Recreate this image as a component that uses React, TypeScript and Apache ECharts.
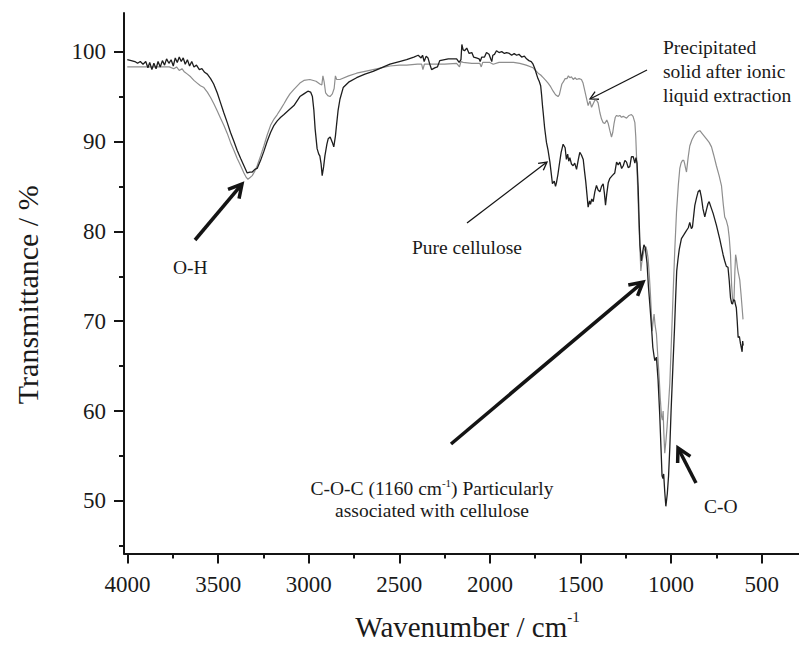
import React, { useEffect, useRef } from "react";
import * as echarts from "echarts";

// Pure cellulose (black trace)
const pureWn = [4002,3980,3960,3945,3930,3915,3900,3888,3878,3866,3855,3843,3832,3820,3808,3796,3785,3772,3760,3748,3737,3726,3715,3704,3693,3682,3670,3658,3646,3634,3620,3604,3590,3575,3560,3542,3525,3505,3487,3469,3450,3432,3413,3395,3376,3358,3340,3325,3312,3298,3285,3266,3248,3230,3211,3192,3174,3155,3137,3110,3082,3049,3027,3005,2990,2980,2972,2965,2954,2945,2939,2932,2926,2918,2911,2900,2893,2882,2870,2862,2853,2847,2838,2828,2810,2780,2736,2690,2645,2600,2552,2500,2460,2420,2396,2380,2372,2363,2352,2342,2332,2322,2305,2290,2277,2230,2184,2170,2160,2155,2148,2140,2128,2115,2100,2090,2075,2060,2054,2045,2030,2019,2005,1996,1990,1984,1975,1964,1950,1935,1920,1908,1893,1880,1866,1853,1840,1825,1810,1798,1785,1772,1762,1752,1743,1735,1728,1720,1715,1710,1706,1698,1688,1679,1669,1662,1655,1645,1638,1633,1625,1618,1607,1596,1585,1578,1571,1565,1559,1550,1541,1532,1522,1512,1504,1495,1485,1478,1471,1464,1458,1450,1445,1438,1430,1421,1412,1403,1393,1384,1375,1368,1362,1355,1347,1338,1325,1311,1301,1292,1283,1273,1264,1255,1246,1237,1228,1219,1209,1200,1194,1188,1182,1177,1172,1164,1157,1150,1143,1133,1125,1116,1108,1101,1094,1090,1081,1072,1063,1056,1050,1045,1041,1035,1029,1021,1014,1007,1000,990,981,975,969,962,955,943,930,918,905,897,888,882,875,869,860,851,841,833,824,814,805,796,790,780,768,750,732,713,704,695,686,679,672,666,661,655,649,644,640,635,630,623,617,612,608,605,602];
const pureT = [99.1,99.0,98.9,98.7,98.9,98.6,98.9,98.2,98.8,98.0,98.7,98.1,98.9,98.3,99.0,98.5,99.2,98.7,99.1,98.4,99.3,98.8,99.4,98.9,99.3,98.6,99.1,98.4,98.9,98.3,98.5,98.0,98.1,97.7,97.5,97.0,96.4,95.4,94.3,93.2,92.1,91.0,90.0,89.0,88.1,87.3,86.5,86.6,86.6,86.9,87.0,87.9,88.9,90.0,91.0,91.8,92.3,92.7,93.0,93.5,94.0,95.0,95.3,95.6,95.5,95.0,93.5,91.4,89.2,88.6,88.4,87.5,86.2,87.2,88.4,89.7,90.3,90.5,89.9,89.4,90.6,91.8,93.5,94.7,96.0,96.6,97.1,97.5,97.8,98.2,98.6,98.9,99.1,99.4,99.6,99.3,99.6,98.9,99.5,99.3,98.6,98.0,98.2,98.3,99.0,99.2,99.2,98.8,99.1,100.8,100.2,100.1,100.4,99.8,99.9,99.4,99.3,99.2,98.9,99.4,99.4,99.9,99.7,99.2,98.9,99.6,99.7,100.1,99.9,100.0,99.8,99.9,99.8,99.6,99.8,99.6,99.7,99.4,99.5,99.2,99.0,98.9,98.6,98.1,97.5,97.0,96.7,96.2,95.2,94.0,93.2,91.5,89.9,89.0,87.7,86.5,85.3,85.6,85.0,85.4,86.3,87.3,88.8,89.7,89.3,88.0,88.6,87.8,88.2,87.5,87.3,87.6,86.9,88.0,88.8,88.5,88.0,86.7,85.5,84.0,82.7,83.4,83.0,83.6,83.3,84.4,85.1,84.6,84.4,85.0,85.3,84.2,82.9,84.2,85.4,85.9,86.2,86.5,87.7,87.4,87.7,87.0,87.3,87.9,87.7,87.1,87.2,88.3,88.3,87.6,88.2,87.6,85.0,81.5,78.5,76.7,77.7,78.5,78.2,76.5,73.8,71.5,69.3,67.1,66.1,65.6,66.0,63.5,59.7,56.0,52.8,52.5,53.0,51.0,49.4,50.8,52.8,56.0,60.1,65.0,69.3,72.6,75.6,76.9,78.0,79.2,79.6,80.0,80.4,81.0,80.3,80.5,81.8,82.9,83.7,84.4,84.6,83.8,82.5,81.6,82.4,83.1,83.3,82.7,82.0,80.7,79.2,77.4,76.7,76.1,76.0,74.5,72.6,72.0,71.9,72.4,72.3,71.8,71.5,70.0,68.2,68.3,67.5,67.0,66.6,67.8,67.3];

// Precipitated solid after ionic liquid extraction (grey trace)
const precipWn = [4002,3950,3900,3850,3800,3770,3745,3730,3715,3700,3689,3670,3652,3634,3616,3598,3579,3560,3542,3524,3505,3487,3469,3450,3432,3413,3395,3376,3358,3345,3336,3324,3312,3298,3285,3266,3248,3230,3211,3192,3174,3155,3137,3120,3104,3082,3049,3027,2994,2960,2939,2928,2922,2915,2907,2895,2883,2870,2860,2853,2846,2828,2780,2736,2690,2645,2600,2552,2500,2460,2400,2377,2370,2362,2300,2250,2184,2168,2160,2148,2100,2056,2048,2040,2000,1982,1950,1908,1870,1835,1800,1762,1748,1734,1720,1706,1692,1679,1665,1651,1638,1624,1617,1610,1603,1596,1585,1575,1567,1559,1550,1540,1530,1522,1508,1495,1486,1476,1467,1458,1448,1439,1430,1421,1412,1403,1393,1384,1375,1366,1355,1347,1338,1329,1322,1315,1308,1301,1292,1283,1274,1264,1255,1246,1232,1219,1210,1200,1195,1191,1184,1177,1171,1167,1162,1158,1150,1139,1133,1127,1120,1114,1108,1105,1100,1094,1088,1081,1074,1066,1060,1053,1048,1044,1040,1035,1028,1022,1015,1007,998,989,980,970,960,952,945,937,930,925,920,915,906,897,885,869,855,841,825,805,790,777,765,750,735,722,712,704,695,686,679,672,666,661,657,653,648,644,640,634,630,621,614,608,603];
const precipT = [98.3,98.3,98.3,98.3,98.3,98.3,98.1,98.3,97.9,98.1,97.8,97.5,97.2,96.8,96.5,96.2,96.0,95.5,94.9,94.2,93.4,92.6,91.8,90.9,89.9,89.0,88.1,87.3,86.5,86.0,85.8,86.0,86.2,86.7,87.3,88.4,89.5,90.7,91.8,92.5,93.0,93.6,94.2,94.8,95.3,95.8,96.5,96.8,96.9,96.7,96.4,96.3,97.3,96.6,95.4,95.1,95.0,95.3,95.9,97.3,96.9,96.9,97.3,97.6,97.8,98.0,98.2,98.4,98.5,98.5,98.6,98.6,98.0,98.6,98.6,98.6,98.7,98.3,98.9,98.8,98.7,98.7,98.3,98.8,98.8,98.6,98.8,98.8,98.8,98.7,98.5,98.2,97.9,97.6,97.4,97.1,96.8,96.5,96.1,95.6,95.2,95.0,95.2,95.8,96.4,96.6,97.0,97.0,97.3,97.1,97.2,96.9,97.1,96.9,97.0,96.9,96.5,95.6,94.8,94.0,94.5,93.8,94.2,94.6,94.6,94.3,93.2,92.5,92.1,92.0,92.4,92.0,91.2,90.5,91.0,92.0,92.7,92.9,92.8,92.9,92.7,92.8,92.7,92.6,92.9,93.0,92.8,92.1,90.5,88.4,84.5,80.4,77.5,75.6,76.5,77.0,77.8,78.3,77.8,77.0,75.0,73.0,70.5,68.9,69.8,70.8,69.5,68.6,66.3,63.8,61.5,59.4,59.0,60.0,57.5,55.3,56.8,58.3,60.5,63.1,68.0,73.0,77.8,82.2,85.2,87.0,87.6,87.9,87.9,87.5,87.0,86.6,88.2,89.5,90.2,90.8,91.1,91.2,90.8,90.3,89.9,89.4,88.5,87.3,86.2,85.1,83.0,81.6,81.2,80.5,79.3,77.4,74.0,72.6,72.2,72.4,75.5,77.4,77.0,76.0,75.5,74.6,73.0,71.5,70.2];

const xMajorTicks = [4000, 3500, 3000, 2500, 2000, 1500, 1000, 500];
const xMinorTicks = [3750, 3250, 2750, 2250, 1750, 1250, 750];
const yMajorTicks = [50, 60, 70, 80, 90, 100];
const yMinorTicks = [45, 55, 65, 75, 85, 95];

const FONT = "Liberation Serif";
const INK = "#141414";
const TXT = "#1a1a1a";

function arrow(x1: number, y1: number, x2: number, y2: number, w: number, head: number) {
  const a = Math.atan2(y2 - y1, x2 - x1);
  const sp = 0.5;
  const back = w > 2 ? 2 : 0.5;
  return [
    {
      type: "line",
      silent: true,
      shape: { x1, y1, x2: x2 - back * Math.cos(a), y2: y2 - back * Math.sin(a) },
      style: { stroke: INK, lineWidth: w, lineCap: "butt" },
    },
    {
      type: "polyline",
      silent: true,
      shape: {
        points: [
          [x2 - head * Math.cos(a - sp), y2 - head * Math.sin(a - sp)],
          [x2, y2],
          [x2 - head * Math.cos(a + sp), y2 - head * Math.sin(a + sp)],
        ],
      },
      style: { stroke: INK, lineWidth: w, fill: null, lineJoin: "miter" },
    },
  ];
}

export default function App() {
  const ref = useRef<HTMLDivElement>(null);
  useEffect(() => {
    if (!ref.current) return;
    const chart = echarts.init(ref.current, null, { renderer: "svg" });
    const axisLineStyle = { color: INK, width: 2 };
    const labelStyle = { fontFamily: FONT, fontSize: 23, color: TXT, formatter: (v: number) => String(v) };
    const xMin = 294, xMax = 4020, yMin = 44.15, yMax = 104.3;
    const textEl = (x: number, y: number, text: string, align = "left", extra: any = {}) => ({
      type: "text",
      silent: true,
      x,
      y,
      style: { text, fontFamily: FONT, fontSize: 19.5, fill: TXT, align, verticalAlign: "middle", ...extra },
    });
    const graphic: any[] = [
      ...arrow(647, 70, 590, 99, 1.3, 9),
      ...arrow(467, 223, 547, 162, 1.3, 9),
      ...arrow(195, 240, 242, 184, 3.5, 15),
      ...arrow(451, 444, 643, 282, 3.5, 15),
      ...arrow(696, 483, 678, 448, 3.5, 15),
      {
        type: "text",
        silent: true,
        x: 663,
        y: 35,
        style: {
          text: "Precipitated\nsolid after ionic\nliquid extraction",
          fontFamily: FONT,
          fontSize: 19.5,
          lineHeight: 24,
          fill: TXT,
          align: "left",
          verticalAlign: "top",
        },
      },
      textEl(412, 247, "Pure cellulose"),
      textEl(173, 267, "O-H"),
      textEl(704, 506, "C-O"),
      {
        type: "text",
        silent: true,
        x: 432,
        y: 488,
        style: {
          text: "{a|C-O-C (1160 cm}{s|-1}{a|) Particularly}",
          align: "center",
          verticalAlign: "middle",
          rich: {
            a: { fontFamily: FONT, fontSize: 19.5, fill: TXT, lineHeight: 22 },
            s: { fontFamily: FONT, fontSize: 11, fill: TXT, verticalAlign: "top" },
          },
        },
      },
      textEl(432, 510, "associated with cellulose", "center"),
    ];
    chart.setOption({
      animation: false,
      backgroundColor: "#ffffff",
      textStyle: { fontFamily: FONT },
      grid: { left: 124, right: 0, top: 13, bottom: 88 },
      xAxis: [
        {
          type: "value",
          inverse: true,
          min: xMin,
          max: xMax,
          position: "bottom",
          axisLine: { show: true, onZero: false, lineStyle: axisLineStyle },
          axisTick: { show: true, length: 10, customValues: xMajorTicks, lineStyle: { color: INK, width: 2 } },
          axisLabel: { customValues: xMajorTicks, margin: 19, ...labelStyle },
          splitLine: { show: false },
          name: "{a|Wavenumber / cm}{s|-1}",
          nameLocation: "middle",
          nameGap: 56,
          nameTextStyle: {
            fontFamily: FONT,
            padding: [0, 0, 0, 12],
            rich: {
              a: { fontFamily: FONT, fontSize: 29, color: TXT, lineHeight: 34 },
              s: { fontFamily: FONT, fontSize: 15, color: TXT, verticalAlign: "top" },
            },
          },
        },
        {
          type: "value",
          inverse: true,
          min: xMin,
          max: xMax,
          position: "bottom",
          axisLine: { show: false, onZero: false },
          axisTick: { show: true, length: 5, customValues: xMinorTicks, lineStyle: { color: INK, width: 2 } },
          axisLabel: { show: false },
          splitLine: { show: false },
        },
      ],
      yAxis: [
        {
          type: "value",
          min: yMin,
          max: yMax,
          position: "left",
          axisLine: { show: true, onZero: false, lineStyle: axisLineStyle },
          axisTick: { show: true, length: 10, customValues: yMajorTicks, lineStyle: { color: INK, width: 2 } },
          axisLabel: { customValues: yMajorTicks, margin: 18, ...labelStyle },
          splitLine: { show: false },
          name: "Transmittance / %",
          nameLocation: "middle",
          nameGap: 82,
          nameTextStyle: { fontFamily: FONT, fontSize: 30, color: TXT, padding: [0, 23, 0, 0] },
        },
        {
          type: "value",
          min: yMin,
          max: yMax,
          position: "left",
          axisLine: { show: false, onZero: false },
          axisTick: { show: true, length: 5, customValues: yMinorTicks, lineStyle: { color: INK, width: 2 } },
          axisLabel: { show: false },
          splitLine: { show: false },
        },
      ],
      series: [
        {
          name: "Precipitated solid after ionic liquid extraction",
          type: "line",
          xAxisIndex: 0,
          yAxisIndex: 0,
          data: precipWn.map((w, i) => [w, precipT[i]]),
          showSymbol: false,
          symbol: "none",
          lineStyle: { color: "#8e8e8e", width: 1.2 },
          z: 2,
        },
        {
          name: "Pure cellulose",
          type: "line",
          xAxisIndex: 0,
          yAxisIndex: 0,
          data: pureWn.map((w, i) => [w, pureT[i]]),
          showSymbol: false,
          symbol: "none",
          lineStyle: { color: "#1e1e1e", width: 1.3 },
          z: 3,
        },
      ],
      graphic,
    });
    return () => chart.dispose();
  }, []);
  return (
    <div
      ref={ref}
      style={{ position: "absolute", left: 0, top: 0, width: 799, height: 646, background: "#fff" }}
    />
  );
}
